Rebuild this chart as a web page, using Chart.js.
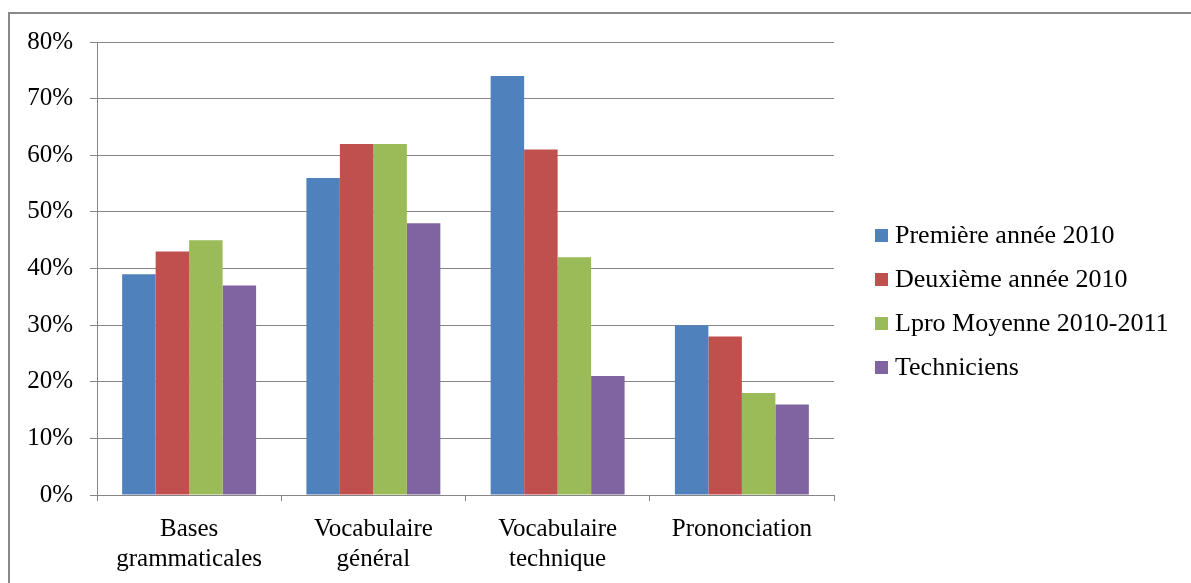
<!DOCTYPE html>
<html>
<head>
<meta charset="utf-8">
<script src="https://cdn.jsdelivr.net/npm/chart.js@4/dist/chart.umd.min.js"></script>
<style>
	body { margin: 0; background: #fff; }
	#wrap { position: relative; width: 1191px; height: 583px; overflow: hidden; }
	#frame { position: absolute; left: 8px; top: 12px; width: 1300px; height: 700px;
		border-top: 2px solid #888; border-left: 2px solid #888; }
	#legend { position: absolute; left: 875px; top: 213px; margin: 0; padding: 0; list-style: none;
		font-family: "Liberation Serif", "Times New Roman", serif; font-size: 26px; color: #000; }
	#legend li { height: 44px; line-height: 44px; white-space: nowrap; }
	#legend span { display: inline-block; width: 13px; height: 13px; margin-right: 7px; vertical-align: middle; position: relative; top: -2px; }
</style>
</head>
<body>
<div id="wrap">
	<div id="frame"></div>
	<canvas id="employeesales" width="1191" height="583"></canvas>
	<ul id="legend"></ul>
</div>
<script>
var categories = [["Bases", "grammaticales"], ["Vocabulaire", "général"], ["Vocabulaire", "technique"], ["Prononciation"]];
var seriesNames = ["Première année 2010", "Deuxième année 2010", "Lpro Moyenne 2010-2011", "Techniciens"];
var premiere = [39, 56, 74, 30];
var deuxieme = [43, 62, 61, 28];
var lpro = [45, 62, 42, 18];
var techniciens = [37, 48, 21, 16];
var colors = ["#4F81BD", "#C0504D", "#9BBB59", "#8064A2"];
var yTicks = [0, 10, 20, 30, 40, 50, 60, 70, 80];

var values = [premiere, deuxieme, lpro, techniciens];
var datasets = [];
for (var i in values) {
	datasets.push({
		label: seriesNames[i],
		backgroundColor: colors[i],
		borderWidth: 0,
		data: values[i]
	});
}

var legend = document.getElementById("legend");
for (var j in seriesNames) {
	var li = document.createElement("li");
	var sw = document.createElement("span");
	sw.style.background = colors[j];
	li.appendChild(sw);
	li.appendChild(document.createTextNode(seriesNames[j]));
	legend.appendChild(li);
}

var serif = "'Liberation Serif', 'Times New Roman', serif";
var gridColor = "#868686";

var barGraph = new Chart(document.getElementById("employeesales"), {
	type: 'bar',
	data: { labels: categories, datasets: datasets },
	options: {
		responsive: false,
		animation: false,
		layout: { padding: { top: 42, right: 357, bottom: 0, left: 0 } },
		datasets: { bar: { categoryPercentage: 0.727, barPercentage: 1 } },
		plugins: { legend: { display: false }, tooltip: { enabled: false } },
		scales: {
			x: {
				grid: { drawOnChartArea: false, drawTicks: true, tickLength: 6, color: gridColor, lineWidth: 1 },
				border: { display: true, color: gridColor, width: 1 },
				ticks: { color: "#000", padding: 14, maxRotation: 0, font: { family: serif, size: 25, lineHeight: 1.18 } },
				afterFit: function(scale) { scale.height = 88; }
			},
			y: {
				min: 0,
				max: 80,
				afterBuildTicks: function(scale) { scale.ticks = yTicks.map(function(v) { return { value: v }; }); },
				grid: { color: gridColor, lineWidth: 1, tickLength: 7 },
				border: { display: true, color: gridColor, width: 1 },
				ticks: { color: "#000", padding: 17, font: { family: serif, size: 25 },
					callback: function(v) { return v + "%"; } },
				afterFit: function(scale) { scale.width = 97; }
			}
		}
	}
});
</script>
</body>
</html>
